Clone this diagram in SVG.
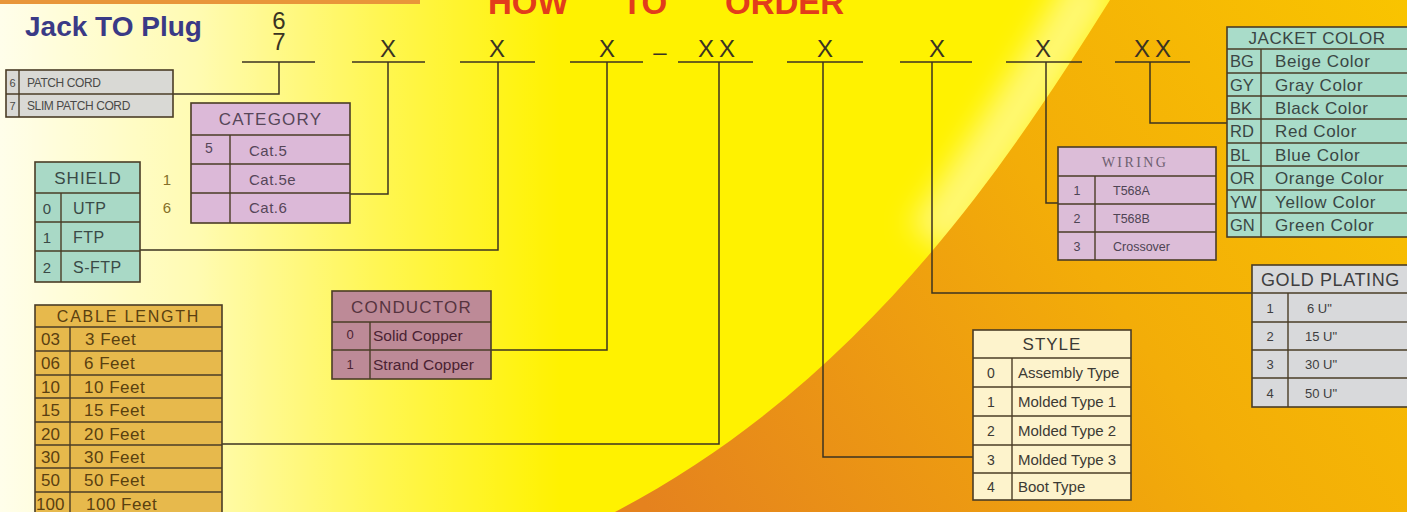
<svg xmlns="http://www.w3.org/2000/svg" width="1407" height="512" viewBox="0 0 1407 512">
<defs>
<linearGradient id="pale" x1="0" y1="0" x2="560" y2="0" gradientUnits="userSpaceOnUse">
<stop offset="0" stop-color="#ffffff" stop-opacity="0.92"/>
<stop offset="0.35" stop-color="#ffffff" stop-opacity="0.7"/>
<stop offset="0.7" stop-color="#ffffff" stop-opacity="0.3"/>
<stop offset="1" stop-color="#ffffff" stop-opacity="0"/>
</linearGradient>
<linearGradient id="orng" x1="1407" y1="0" x2="650" y2="512" gradientUnits="userSpaceOnUse">
<stop offset="0" stop-color="#f9c400"/>
<stop offset="0.45" stop-color="#f3ad08"/>
<stop offset="1" stop-color="#e5821e"/>
</linearGradient>
<filter id="blur" x="-30%" y="-30%" width="160%" height="160%"><feGaussianBlur stdDeviation="14"/></filter>
<style>
.t{font-family:"Liberation Sans",Arial,sans-serif;}
.tb{stroke:#4a3c26;stroke-width:1.6;}
.dv{stroke:#4a3c26;stroke-width:1.4;}
.ln{stroke:#3d3320;stroke-width:1.5;fill:none;}
.code{font-family:"Liberation Sans",Arial,sans-serif;font-size:24px;fill:#3a3322;text-anchor:middle;}
.mid{text-anchor:middle;}
</style>
</defs>

<!-- background -->
<rect x="0" y="0" width="1407" height="512" fill="#fff200"/>
<rect x="0" y="0" width="560" height="512" fill="url(#pale)"/>
<path d="M1095 -20 C1050 60 1000 140 930 240" fill="none" stroke="#ffffff" stroke-opacity="0.45" stroke-width="50" filter="url(#blur)"/>
<path d="M1110 0 C1003 170 862 382 615 512 L1407 512 L1407 0 Z" fill="url(#orng)"/>
<rect x="0" y="0" width="420" height="4" fill="#e8963a"/>

<!-- title -->
<text class="t" y="14" font-size="33" font-weight="bold" fill="#e23c1c"><tspan x="488">HOW</tspan><tspan x="622">TO</tspan><tspan x="725">ORDER</tspan></text>
<text class="t" x="25" y="36" font-size="28" font-weight="bold" fill="#3a3a86">Jack TO Plug</text>

<!-- code positions -->
<g id="code">
<text class="code" x="279" y="29" font-size="23">6</text>
<text class="code" x="279" y="50" font-size="23">7</text>
<text class="code" x="388" y="57">X</text>
<text class="code" x="497" y="57">X</text>
<text class="code" x="607" y="57">X</text>
<text class="code" x="660" y="60" font-size="30">–</text>
<text class="code" x="719" y="57" letter-spacing="5">XX</text>
<text class="code" x="825" y="57">X</text>
<text class="code" x="937" y="57">X</text>
<text class="code" x="1043" y="57">X</text>
<text class="code" x="1155" y="57" letter-spacing="5">XX</text>
<path class="ln" d="M242 62H315M352 62H425M460 62H535M570 62H643M678 62H753M787 62H863M900 62H972M1006 62H1082M1115 62H1190"/>
</g>

<!-- connectors -->
<g id="connectors">
<polyline class="ln" points="279,62 279,94 173,94"/>
<polyline class="ln" points="388,62 388,194 350,194"/>
<polyline class="ln" points="498,62 498,250 140,250"/>
<polyline class="ln" points="607,62 607,350 491,350"/>
<polyline class="ln" points="719,62 719,444 222,444"/>
<polyline class="ln" points="823,62 823,457 973,457"/>
<polyline class="ln" points="932,62 932,293 1252,293"/>
<polyline class="ln" points="1046,62 1046,203 1058,203"/>
<polyline class="ln" points="1150,62 1150,123 1227,123"/>
</g>

<!-- PATCH CORD -->
<g id="patch-cord" class="t" fill="#4a4a48" font-size="12">
<rect class="tb" x="6" y="70" width="167" height="47" fill="#d9d9d5"/>
<line class="dv" x1="19" y1="70" x2="19" y2="117"/>
<line class="dv" x1="6" y1="94" x2="173" y2="94"/>
<text x="12.5" y="86.5" class="mid" font-size="11">6</text>
<text x="27" y="86.5" letter-spacing="-0.4">PATCH CORD</text>
<text x="12.5" y="110" class="mid" font-size="11">7</text>
<text x="27" y="110" letter-spacing="-0.4">SLIM PATCH CORD</text>
</g>

<!-- CATEGORY -->
<g id="category" class="t" fill="#564658">
<rect class="tb" x="191" y="103" width="159" height="120" fill="#dcb9d8"/>
<line class="dv" x1="191" y1="135" x2="350" y2="135"/>
<line class="dv" x1="191" y1="164" x2="350" y2="164"/>
<line class="dv" x1="191" y1="193" x2="350" y2="193"/>
<line class="dv" x1="230" y1="135" x2="230" y2="223"/>
<text x="270.5" y="125" class="mid" font-size="17" letter-spacing="1.2">CATEGORY</text>
<text x="209" y="153" class="mid" font-size="14">5</text>
<text x="249" y="156" font-size="15" letter-spacing="0.5">Cat.5</text>
<text x="249" y="185" font-size="15" letter-spacing="0.5">Cat.5e</text>
<text x="249" y="213" font-size="15" letter-spacing="0.5">Cat.6</text>
<text x="167" y="185" class="mid" font-size="15" fill="#857028">1</text>
<text x="167" y="213" class="mid" font-size="15" fill="#857028">6</text>
</g>

<!-- SHIELD -->
<g id="shield" class="t" fill="#3a4a46">
<rect class="tb" x="35" y="162" width="105" height="120" fill="#a9d9c6"/>
<line class="dv" x1="35" y1="193" x2="140" y2="193"/>
<line class="dv" x1="35" y1="222" x2="140" y2="222"/>
<line class="dv" x1="35" y1="251" x2="140" y2="251"/>
<line class="dv" x1="61" y1="193" x2="61" y2="282"/>
<text x="88" y="184" class="mid" font-size="17" letter-spacing="1">SHIELD</text>
<text x="47" y="213.5" class="mid" font-size="15">0</text>
<text x="73" y="213.5" font-size="16" letter-spacing="0.5">UTP</text>
<text x="47" y="242.5" class="mid" font-size="15">1</text>
<text x="73" y="242.5" font-size="16" letter-spacing="0.5">FTP</text>
<text x="47" y="272.5" class="mid" font-size="15">2</text>
<text x="73" y="272.5" font-size="16" letter-spacing="0.5">S-FTP</text>
</g>

<!-- CABLE LENGTH -->
<g id="cable-length" class="t" fill="#5a4010" font-size="17">
<rect class="tb" x="35" y="305" width="187" height="210" fill="#e7b94c"/>
<line class="dv" x1="35" y1="327" x2="222" y2="327"/>
<line class="dv" x1="35" y1="351" x2="222" y2="351"/>
<line class="dv" x1="35" y1="375" x2="222" y2="375"/>
<line class="dv" x1="35" y1="398" x2="222" y2="398"/>
<line class="dv" x1="35" y1="422" x2="222" y2="422"/>
<line class="dv" x1="35" y1="445" x2="222" y2="445"/>
<line class="dv" x1="35" y1="468" x2="222" y2="468"/>
<line class="dv" x1="35" y1="492" x2="222" y2="492"/>
<line class="dv" x1="70" y1="327" x2="70" y2="515"/>
<text x="128.5" y="322" class="mid" font-size="16" letter-spacing="1.8">CABLE LENGTH</text>
<text x="41" y="345">03</text><text x="85" y="345" letter-spacing="0.5">3 Feet</text>
<text x="41" y="369">06</text><text x="84" y="369" letter-spacing="0.5">6 Feet</text>
<text x="41" y="392.5">10</text><text x="84" y="392.5" letter-spacing="0.5">10 Feet</text>
<text x="41" y="416">15</text><text x="84" y="416" letter-spacing="0.5">15 Feet</text>
<text x="41" y="439.5">20</text><text x="84" y="439.5" letter-spacing="0.5">20 Feet</text>
<text x="41" y="462.5">30</text><text x="84" y="462.5" letter-spacing="0.5">30 Feet</text>
<text x="41" y="486">50</text><text x="84" y="486" letter-spacing="0.5">50 Feet</text>
<text x="36" y="509.5">100</text><text x="86" y="509.5" letter-spacing="0.5">100 Feet</text>
</g>

<!-- CONDUCTOR -->
<g id="conductor" class="t" fill="#4a2232">
<rect class="tb" x="332" y="291" width="159" height="88" fill="#bd8a97"/>
<line class="dv" x1="332" y1="322" x2="491" y2="322"/>
<line class="dv" x1="332" y1="350" x2="491" y2="350"/>
<line class="dv" x1="370" y1="322" x2="370" y2="379"/>
<text x="411.5" y="313" class="mid" font-size="17" letter-spacing="1.2" fill="#56343f">CONDUCTOR</text>
<text x="350" y="339" class="mid" font-size="13">0</text>
<text x="373" y="341" font-size="15.5">Solid Copper</text>
<text x="350" y="369" class="mid" font-size="13">1</text>
<text x="373" y="369.5" font-size="15.5">Strand Copper</text>
</g>

<!-- STYLE -->
<g id="style" class="t" fill="#3c3a34">
<rect class="tb" x="973" y="330" width="158" height="170" fill="#fdf3cc"/>
<line class="dv" x1="973" y1="358" x2="1131" y2="358"/>
<line class="dv" x1="973" y1="387" x2="1131" y2="387"/>
<line class="dv" x1="973" y1="416" x2="1131" y2="416"/>
<line class="dv" x1="973" y1="445" x2="1131" y2="445"/>
<line class="dv" x1="973" y1="473" x2="1131" y2="473"/>
<line class="dv" x1="1012" y1="358" x2="1012" y2="500"/>
<text x="1052" y="350" class="mid" font-size="17" letter-spacing="1">STYLE</text>
<text x="991" y="378" class="mid" font-size="14">0</text><text x="1018" y="378" font-size="15">Assembly Type</text>
<text x="991" y="407" class="mid" font-size="14">1</text><text x="1018" y="407" font-size="15">Molded Type 1</text>
<text x="991" y="436" class="mid" font-size="14">2</text><text x="1018" y="436" font-size="15">Molded Type 2</text>
<text x="991" y="464.5" class="mid" font-size="14">3</text><text x="1018" y="464.5" font-size="15">Molded Type 3</text>
<text x="991" y="492" class="mid" font-size="14">4</text><text x="1018" y="492" font-size="15">Boot Type</text>
</g>

<!-- GOLD PLATING -->
<g id="gold-plating" class="t" fill="#3e3e40">
<rect class="tb" x="1252" y="265" width="160" height="142" fill="#d8d9db"/>
<line class="dv" x1="1252" y1="293" x2="1412" y2="293"/>
<line class="dv" x1="1252" y1="322" x2="1412" y2="322"/>
<line class="dv" x1="1252" y1="350" x2="1412" y2="350"/>
<line class="dv" x1="1252" y1="378" x2="1412" y2="378"/>
<line class="dv" x1="1288" y1="293" x2="1288" y2="407"/>
<text x="1261" y="286" font-size="18" letter-spacing="0.6">GOLD PLATING</text>
<text x="1270" y="312.5" class="mid" font-size="13">1</text><text x="1307" y="312.5" font-size="13">6 U"</text>
<text x="1270" y="341" class="mid" font-size="13">2</text><text x="1305" y="341" font-size="13">15 U"</text>
<text x="1270" y="369" class="mid" font-size="13">3</text><text x="1305" y="369" font-size="13">30 U"</text>
<text x="1270" y="397.5" class="mid" font-size="13">4</text><text x="1305" y="397.5" font-size="13">50 U"</text>
</g>

<!-- WIRING -->
<g id="wiring" class="t" fill="#4e4454">
<rect class="tb" x="1058" y="147" width="158" height="113" fill="#dcbdd8"/>
<line class="dv" x1="1058" y1="176" x2="1216" y2="176"/>
<line class="dv" x1="1058" y1="204" x2="1216" y2="204"/>
<line class="dv" x1="1058" y1="232" x2="1216" y2="232"/>
<line class="dv" x1="1095" y1="176" x2="1095" y2="260"/>
<text x="1135" y="167" class="mid" font-family="'Liberation Serif',serif" font-size="14" letter-spacing="2.4" fill="#6e6070">WIRING</text>
<text x="1077" y="194.5" class="mid" font-size="12.5">1</text><text x="1113" y="194.5" font-size="12.5">T568A</text>
<text x="1077" y="222.5" class="mid" font-size="12.5">2</text><text x="1113" y="222.5" font-size="12.5">T568B</text>
<text x="1077" y="250.5" class="mid" font-size="12.5">3</text><text x="1113" y="250.5" font-size="12.5">Crossover</text>
</g>

<!-- JACKET COLOR -->
<g id="jacket-color" class="t" fill="#3a4644" font-size="17">
<rect class="tb" x="1227" y="27" width="185" height="210" fill="#a9dcc9"/>
<line class="dv" x1="1227" y1="49" x2="1412" y2="49"/>
<line class="dv" x1="1227" y1="73" x2="1412" y2="73"/>
<line class="dv" x1="1227" y1="96" x2="1412" y2="96"/>
<line class="dv" x1="1227" y1="119" x2="1412" y2="119"/>
<line class="dv" x1="1227" y1="143" x2="1412" y2="143"/>
<line class="dv" x1="1227" y1="166" x2="1412" y2="166"/>
<line class="dv" x1="1227" y1="190" x2="1412" y2="190"/>
<line class="dv" x1="1227" y1="213" x2="1412" y2="213"/>
<line class="dv" x1="1261" y1="49" x2="1261" y2="237"/>
<text x="1317" y="44" class="mid" letter-spacing="0.6">JACKET COLOR</text>
<text x="1230" y="67" font-size="16.5">BG</text><text x="1275" y="67" letter-spacing="0.6">Beige Color</text>
<text x="1230" y="90.5" font-size="16.5">GY</text><text x="1275" y="90.5" letter-spacing="0.6">Gray Color</text>
<text x="1230" y="113.5" font-size="16.5">BK</text><text x="1275" y="113.5" letter-spacing="0.6">Black Color</text>
<text x="1230" y="137" font-size="16.5">RD</text><text x="1275" y="137" letter-spacing="0.6">Red Color</text>
<text x="1230" y="160.5" font-size="16.5">BL</text><text x="1275" y="160.5" letter-spacing="0.6">Blue Color</text>
<text x="1230" y="184" font-size="16.5">OR</text><text x="1275" y="184" letter-spacing="0.6">Orange Color</text>
<text x="1230" y="207.5" font-size="16.5">YW</text><text x="1275" y="207.5" letter-spacing="0.6">Yellow Color</text>
<text x="1230" y="231" font-size="16.5">GN</text><text x="1275" y="231" letter-spacing="0.6">Green Color</text>
</g>
</svg>
